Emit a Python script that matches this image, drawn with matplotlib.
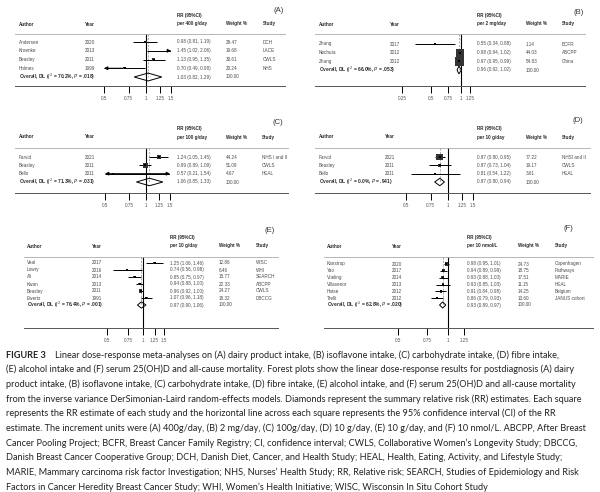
import numpy as np
import matplotlib.pyplot as plt
from matplotlib.lines import Line2D
from matplotlib.ticker import FixedLocator, NullLocator
from matplotlib.transforms import blended_transform_factory

W, H = 600, 492

# ---------------- data ----------------
a_author = ["Andersen", "Kroenke", "Beasley", "Holmes"]
a_year = ["2020", "2013", "2011", "1999"]
a_rr = [0.98, 1.45, 1.13, 0.70]
a_lo = [0.81, 1.02, 0.95, 0.49]
a_hi = [1.19, 2.06, 1.35, 0.98]
a_weight = [29.47, 19.68, 30.61, 20.24]
a_study = ["DCH", "LACE", "CWLS", "NHS"]
a_overall = [1.03, 0.82, 1.29]
a_het = ["70.2%", ".018"]

b_author = ["Zhang", "Nechuta", "Zhang"]
b_year = ["2017", "2012", "2012"]
b_rr = [0.55, 0.98, 0.97]
b_lo = [0.34, 0.94, 0.95]
b_hi = [0.88, 1.02, 0.99]
b_weight = [1.14, 44.03, 54.83]
b_study = ["BCFR", "ABCPP", "China"]
b_overall = [0.96, 0.92, 1.02]
b_het = ["66.0%", ".053"]

c_author = ["Farvid", "Beasley", "Bello"]
c_year = ["2021", "2011", "2011"]
c_rr = [1.24, 0.99, 0.57]
c_lo = [1.05, 0.89, 0.21]
c_hi = [1.45, 1.09, 1.54]
c_weight = [44.24, 51.09, 4.67]
c_study = ["NHS I and II", "CWLS", "HEAL"]
c_overall = [1.06, 0.85, 1.33]
c_het = ["71.3%", ".031"]

d_author = ["Farvid", "Beasley", "Bello"]
d_year = ["2021", "2011", "2011"]
d_rr = [0.87, 0.87, 0.81]
d_lo = [0.80, 0.73, 0.54]
d_hi = [0.95, 1.04, 1.22]
d_weight = [77.22, 19.17, 3.61]
d_study = ["NHSI and II", "CWLS", "HEAL"]
d_overall = [0.87, 0.80, 0.94]
d_het = ["0.0%", ".941"]

e_author = ["Veal", "Lowry", "Ali", "Kwan", "Beasley", "Ewertz"]
e_year = ["2017", "2016", "2014", "2013", "2011", "1991"]
e_rr = [1.25, 0.74, 0.85, 0.94, 0.96, 1.07]
e_lo = [1.06, 0.56, 0.75, 0.88, 0.92, 0.96]
e_hi = [1.46, 0.98, 0.97, 1.00, 1.00, 1.18]
e_weight = [12.86, 6.46, 15.77, 22.33, 24.27, 18.32]
e_study = ["WISC", "WHI", "SEARCH", "ABCPP", "CWLS", "DBCCG"]
e_overall = [0.97, 0.90, 1.06]
e_het = ["76.4%", ".001"]

f_author = ["Kanstrup", "Yao", "Vrieling", "Villasenor", "Hatse", "Trelli"]
f_year = ["2020", "2017", "2014", "2013", "2012", "2012"]
f_rr = [0.98, 0.94, 0.93, 0.93, 0.91, 0.86]
f_lo = [0.95, 0.89, 0.88, 0.85, 0.84, 0.79]
f_hi = [1.01, 0.99, 1.00, 1.03, 0.98, 0.93]
f_weight = [24.73, 18.75, 17.51, 11.15, 14.25, 13.60]
f_study = ["Copenhagen", "Pathways", "MARIE", "HEAL", "Belgium", "JANUS cohort"]
f_overall = [0.93, 0.89, 0.97]
f_het = ["62.8%", ".020"]

ticks_a = [0.5, 0.75, 1, 1.25, 1.5]
ticks_b = [0.25, 0.5, 0.75, 1, 1.25]
ticks_f = [0.5, 0.75, 1, 1.25]

caption_first = "Linear dose-response meta-analyses on (A) dairy product intake, (B) isoflavone intake, (C) carbohydrate intake, (D) fibre intake,"
caption = [
    "(E) alcohol intake and (F) serum 25(OH)D and all-cause mortality. Forest plots show the linear dose-response results for postdiagnosis (A) dairy",
    "product intake, (B) isoflavone intake, (C) carbohydrate intake, (D) fibre intake, (E) alcohol intake, and (F) serum 25(OH)D and all-cause mortality",
    "from the inverse variance DerSimonian-Laird random-effects models. Diamonds represent the summary relative risk (RR) estimates. Each square",
    "represents the RR estimate of each study and the horizontal line across each square represents the 95% confidence interval (CI) of the RR",
    "estimate. The increment units were (A) 400g/day, (B) 2 mg/day, (C) 100g/day, (D) 10 g/day, (E) 10 g/day, and (F) 10 nmol/L. ABCPP, After Breast",
    "Cancer Pooling Project; BCFR, Breast Cancer Family Registry; CI, confidence interval; CWLS, Collaborative Women\u2019s Longevity Study; DBCCG,",
    "Danish Breast Cancer Cooperative Group; DCH, Danish Diet, Cancer, and Health Study; HEAL, Health, Eating, Activity, and Lifestyle Study;",
    "MARIE, Mammary carcinoma risk factor Investigation; NHS, Nurses\u2019 Health Study; RR, Relative risk; SEARCH, Studies of Epidemiology and Risk",
    "Factors in Cancer Heredity Breast Cancer Study; WHI, Women\u2019s Health Initiative; WISC, Wisconsin In Situ Cohort Study",
]
# right edge (px) of each caption line in the reference
caption_ends = [585, 588, 586, 588, 547, 588, 548, 540, 582, 425]

plt.rcParams['font.family'] = ['Liberation Sans', 'DejaVu Sans']
fig = plt.figure(figsize=(6, 4.92), dpi=100)


def fx(x):
    return x / W


def fy(y):
    return 1 - y / H


def hline(x0, x1, y, color, lw):
    fig.add_artist(Line2D([fx(x0), fx(x1)], [fy(y), fy(y)],
                          transform=fig.transFigure, color=color, lw=lw))


FS = 3.3
TXT = '#4a4a4a'
HD = '#2a2a2a'


def forest(label, unit, author, year, rr, lo, hi, wt, study, overall, het,
           ticks, lay, box):
    n = len(author)
    px0, px1 = lay['px']
    yh, yf, yo, yb = lay['yh'], lay['yf'], lay['yo'], lay['yb']
    ax = fig.add_axes([fx(px0), fy(yb), fx(px1) - fx(px0), (yb - yh) / H])
    ax.set_xscale('log')
    ax.set_xlim(ticks[0], ticks[-1])
    s = (yo - yf) / n
    top = -(yf - yh) / s
    ax.set_ylim(n + (yb - yo) / s, top)
    for sp in ax.spines.values():
        sp.set_visible(False)
    ax.patch.set_visible(False)
    ax.yaxis.set_visible(False)
    ax.xaxis.set_major_locator(FixedLocator(ticks))
    ax.xaxis.set_minor_locator(NullLocator())
    ax.set_xticklabels([f"{t:g}" for t in ticks])
    ax.tick_params(axis='x', direction='out', length=5, width=0.7,
                   labelsize=FS, pad=2.5, labelcolor='#555555')

    rows = np.arange(n)
    x0, x1 = ticks[0], ticks[-1]
    ax.axvline(1, color='black', lw=0.8, zorder=1)
    ax.plot([overall[0], overall[0]], [top, n], color='#888888', lw=0.5,
            ls=(0, (3, 2)), zorder=1)
    for r, e, l, h in zip(rows, rr, lo, hi):
        ax.plot([max(l, x0), min(h, x1)], [r, r], color='black', lw=0.7,
                zorder=2, solid_capstyle='butt')
        if l < x0:
            ax.annotate('', xy=(x0, r), xytext=(e, r),
                        arrowprops=dict(arrowstyle='-|>', color='black',
                                        lw=0.7, mutation_scale=5,
                                        shrinkA=0, shrinkB=0))
        if h > x1:
            ax.annotate('', xy=(x1, r), xytext=(e, r),
                        arrowprops=dict(arrowstyle='-|>', color='black',
                                        lw=0.7, mutation_scale=5,
                                        shrinkA=0, shrinkB=0))
    ax.scatter(rr, rows, s=np.array(wt) * box, marker='s', color='#333333',
               linewidths=0, zorder=3)
    ax.scatter(rr, rows, s=1.0, marker='s', color='black', linewidths=0,
               zorder=4)
    e, l, h = overall
    ax.fill([l, e, h, e], [n, n - 0.45, n, n + 0.45], facecolor='none',
            edgecolor='black', lw=0.7, zorder=3)

    tr = blended_transform_factory(fig.transFigure, ax.transData)
    for r in rows:
        ax.text(fx(lay['xa']), r, author[r], transform=tr, fontsize=FS,
                color=TXT, va='center')
        ax.text(fx(lay['xy']), r, year[r], transform=tr, fontsize=FS,
                color=TXT, va='center')
        ax.text(fx(lay['xr']), r, f"{rr[r]:.2f} ({lo[r]:.2f}, {hi[r]:.2f})",
                transform=tr, fontsize=FS, color=TXT, va='center')
        ax.text(fx(lay['xw']), r, f"{wt[r]:.2f}", transform=tr, fontsize=FS,
                color=TXT, va='center')
        ax.text(fx(lay['xs']), r, study[r], transform=tr, fontsize=FS,
                color=TXT, va='center')
    ax.text(fx(lay['xa']), n,
            "Overall, DL ($\\mathit{I}^2$ = " + het[0] +
            ", $\\mathit{P}$ = " + het[1] + ")",
            transform=tr, fontsize=FS + 0.2, color=HD, va='center',
            weight='bold')
    ax.text(fx(lay['xr']), n, f"{e:.2f} ({l:.2f}, {h:.2f})", transform=tr,
            fontsize=FS, color=TXT, va='center')
    ax.text(fx(lay['xw']), n, "100.00", transform=tr, fontsize=FS,
            color=TXT, va='center')

    # headers
    kw = dict(fontsize=FS, color=HD, va='center', weight='bold')
    fig.text(fx(lay['xa']), fy(lay['yc']), "Author", **kw)
    fig.text(fx(lay['xy']), fy(lay['yc']), "Year", **kw)
    fig.text(fx(lay['xr']), fy(lay['yr']), "RR (95%CI)", **kw)
    fig.text(fx(lay['xr']), fy(lay['yc']), unit, **kw)
    fig.text(fx(lay['xw']), fy(lay['yc']), "Weight %", **kw)
    fig.text(fx(lay['xs']), fy(lay['yc']), "Study", **kw)
    fig.text(fx(lay['xl']), fy(lay['yl']), label, fontsize=5.5,
             color='#333333', va='center', ha='right')
    hline(lay['l'], lay['r'], yh, '#aaaaaa', 0.6)
    hline(lay['l'], lay['r'], yb, '#555555', 0.7)
    return ax


lay_a = dict(px=(104, 171), yh=34, yf=42, yo=77, yb=86, yc=24, yr=15,
             yl=11, xa=19, xy=85, xr=177, xw=226, xs=263, xl=284, l=15, r=285)
lay_b = dict(px=(402, 470), yh=34, yf=44, yo=70, yb=86, yc=24, yr=15,
             yl=12, xa=319, xy=390, xr=477, xw=526, xs=562, xl=584, l=315,
             r=585)
lay_c = dict(px=(105, 170), yh=148, yf=157, yo=182, yb=193, yc=137, yr=128,
             yl=122, xa=19, xy=85, xr=177, xw=226, xs=262, xl=283, l=15,
             r=288)
lay_d = dict(px=(406, 473), yh=148, yf=157, yo=182, yb=193, yc=137, yr=128,
             yl=121, xa=319, xy=385, xr=477, xw=526, xs=562, xl=583, l=315,
             r=590)
lay_e = dict(px=(107, 164), yh=257, yf=263, yo=305, yb=328, yc=246, yr=237,
             yl=230, xa=27, xy=92, xr=170, xw=219, xs=256, xl=275, l=24,
             r=278)
lay_f = dict(px=(398, 464), yh=257, yf=264, yo=305, yb=328, yc=246, yr=237,
             yl=229, xa=327, xy=392, xr=467, xw=518, xs=555, xl=573, l=324,
             r=593)

forest("(A)", "per 400 g/day", a_author, a_year, a_rr, a_lo, a_hi, a_weight,
       a_study, a_overall, a_het, ticks_a, lay_a, 0.15)
forest("(B)", "per 2 mg/day", b_author, b_year, b_rr, b_lo, b_hi, b_weight,
       b_study, b_overall, b_het, ticks_b, lay_b, 0.8)
forest("(C)", "per 100 g/day", c_author, c_year, c_rr, c_lo, c_hi, c_weight,
       c_study, c_overall, c_het, ticks_a, lay_c, 0.2)
forest("(D)", "per 10 g/day", d_author, d_year, d_rr, d_lo, d_hi, d_weight,
       d_study, d_overall, d_het, ticks_a, lay_d, 0.3)
forest("(E)", "per 10 g/day", e_author, e_year, e_rr, e_lo, e_hi, e_weight,
       e_study, e_overall, e_het, ticks_a, lay_e, 0.2)
forest("(F)", "per 10 nmol/L", f_author, f_year, f_rr, f_lo, f_hi, f_weight,
       f_study, f_overall, f_het, ticks_f, lay_f, 0.2)

# caption
cap_color = '#222222'
cfs = 6.0
y0, dy = 355, 14.67
fig.text(fx(6), fy(y0), "FIGURE 3", fontsize=cfs, family='Lato',
         weight='bold', color=cap_color, va='center')
lines = [fig.text(fx(55), fy(y0), caption_first, fontsize=cfs,
                  family='Lato', color=cap_color, va='center')]
for i, s in enumerate(caption):
    lines.append(fig.text(fx(6), fy(y0 + dy * (i + 1)), s, fontsize=cfs,
                          family='Lato', color=cap_color, va='center'))
# one font size for the whole caption, fitted to the reference line ends
r = fig.canvas.get_renderer()
scales = []
for t, x_end in zip(lines, caption_ends):
    bb = t.get_window_extent(r)
    scales.append((x_end - bb.x0) / bb.width)
cfs = cfs * float(np.median(scales))
for t in lines:
    t.set_fontsize(cfs)
fig.texts[-len(lines) - 1].set_fontsize(cfs)

fig.savefig("out.png", dpi=100)
